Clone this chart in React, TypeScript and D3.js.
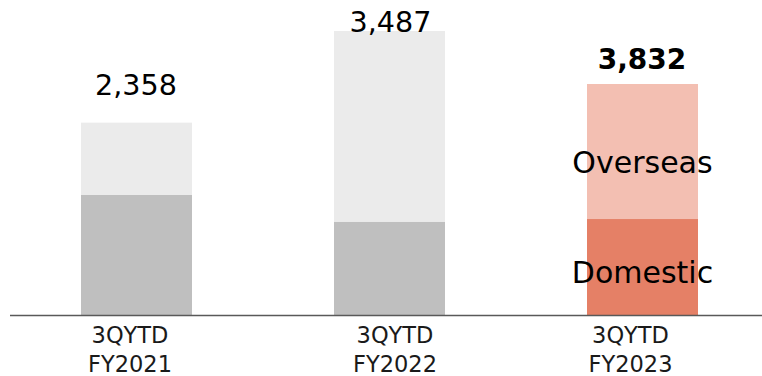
import React from "react";
import * as d3 from "d3";

const categories = ["FY2021", "FY2022", "FY2023"];
const categoryLines = [
  ["3QYTD", "FY2021"],
  ["3QYTD", "FY2022"],
  ["3QYTD", "FY2023"],
];
// segment heights as drawn (the reference is not to scale with its labels)
const domestic = [1995, 1553, 1597];
const overseas = [1197, 3157, 2235];
const totalLabels = ["2,358", "3,487", "3,832"];
const seriesNames = ["Domestic", "Overseas"];

const W = 762;
const H = 376;
const baseY = 315.5;
const topY = 84;

const grayColors = ["#BFBFBF", "#EBEBEB"];
const accentColors = ["#E58066", "#F3BFB2"];
const labelDx = [-6.5, 5.5, -12];
const totalGap = [28, -1, 15];
const totalDx = [-0.5, 1, -0.5];

export default function App() {
  const last = categories.length - 1;
  const x = d3
    .scaleBand<string>()
    .domain(categories)
    .range([10, 769])
    .paddingInner(142 / 253)
    .paddingOuter(71 / 253)
    .align(0.5);
  const y = d3
    .scaleLinear()
    .domain([0, domestic[last] + overseas[last]])
    .range([baseY, topY]);

  const stackData = categories.map((c, i) => ({ cat: c, Domestic: domestic[i], Overseas: overseas[i] }));
  const stack = d3.stack<any>().keys(seriesNames)(stackData);
  const bw = x.bandwidth();
  const font = "'DejaVu Sans', Verdana, sans-serif";

  return (
    <svg
      width={W}
      height={H}
      style={{ position: "absolute", left: 0, top: 0, display: "block", background: "#fff" }}
      fontFamily={font}
    >
      {stack.map((layer, si) =>
        layer.map((d, i) => (
          <rect
            key={`${si}-${i}`}
            x={x(categories[i])}
            y={y(d[1])}
            width={bw}
            height={y(d[0]) - y(d[1])}
            fill={i === last ? accentColors[si] : grayColors[si]}
          />
        ))
      )}
      <line x1={10} x2={762} y1={baseY} y2={baseY} stroke="#595959" strokeWidth={1.5} />
      {categories.map((c, i) => {
        const cx = (x(c) as number) + bw / 2 + labelDx[i];
        return (
          <text key={c} textAnchor="middle" fontSize={22.5} fill="#1a1a1a">
            <tspan x={cx} y={343}>{categoryLines[i][0]}</tspan>
            <tspan x={cx} y={372}>{categoryLines[i][1]}</tspan>
          </text>
        );
      })}
      {categories.map((c, i) => {
        const cx = (x(c) as number) + bw / 2 + totalDx[i];
        const t = y(domestic[i] + overseas[i]);
        const bold = i === last;
        return (
          <text
            key={`t-${c}`}
            x={cx}
            y={t - totalGap[i]}
            textAnchor="middle"
            fontSize={bold ? 28 : 28.6}
            fontWeight={bold ? "bold" : "normal"}
            fill="#000"
          >
            {totalLabels[i]}
          </text>
        );
      })}
      {stack.map((layer, si) => {
        const d = layer[last];
        const mid = (y(d[0]) + y(d[1])) / 2;
        const off = si === 0 ? 15.75 : 21.5;
        return (
          <text
            key={`s-${si}`}
            x={(x(categories[last]) as number) + bw / 2}
            y={mid + off}
            textAnchor="middle"
            fontSize={30}
            fill="#000"
          >
            {seriesNames[si]}
          </text>
        );
      })}
    </svg>
  );
}
